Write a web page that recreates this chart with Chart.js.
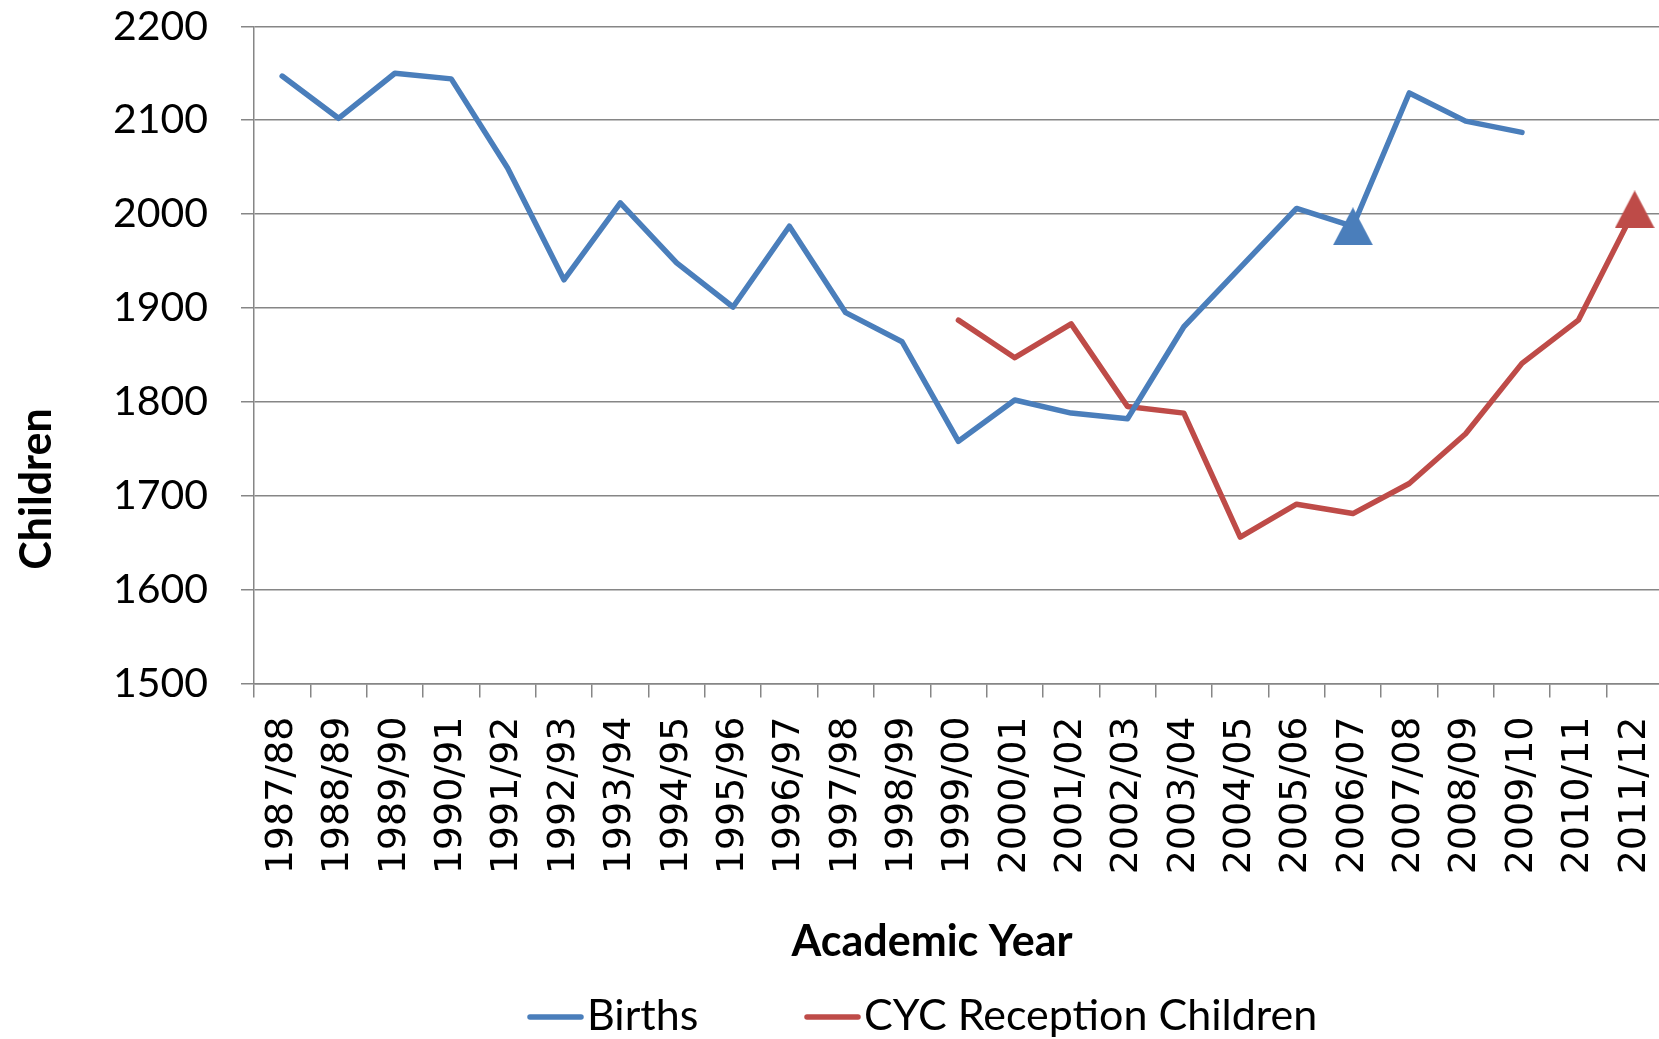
<!DOCTYPE html>
<html>
<head>
<meta charset="utf-8">
<script src="https://cdn.jsdelivr.net/npm/chart.js@4/dist/chart.umd.min.js"></script>
<style>
html,body{margin:0;padding:0;overflow:hidden;background:#fff}
#wrap{width:1700px;height:1039px}
</style>
</head>
<body>
<div id="wrap"><canvas id="c" width="1700" height="1039"></canvas></div>
<script>
// ---- data ----
const years = ['1987/88','1988/89','1989/90','1990/91','1991/92','1992/93','1993/94','1994/95','1995/96','1996/97','1997/98','1998/99','1999/00','2000/01','2001/02','2002/03','2003/04','2004/05','2005/06','2006/07','2007/08','2008/09','2009/10','2010/11','2011/12'];
const births = [2147,2102,2150,2144,2049,1930,2012,1948,1901,1987,1895,1864,1758,1802,1788,1782,1880,1943,2006,1987,2129,2099,2087,null,null];
const reception = [null,null,null,null,null,null,null,null,null,null,null,null,1887,1847,1883,1795,1788,1656,1691,1681,1713,1766,1841,1887,2005];
const birthsMarked = ['2006/07'];
const receptionMarked = ['2011/12'];
const seriesNames = ['Births','CYC Reception Children'];
const seriesColors = ['#4A7EBB','#BE4B48'];
const yMin = 1500, yMax = 2200, yStep = 100;
const xTitle = 'Academic Year';
const yTitle = 'Children';

// triangle marker images (Excel-style: centred on its bounding box)
function triangleImage(color) {
  const c = document.createElement('canvas');
  c.width = 40; c.height = 38;
  const g = c.getContext('2d');
  g.fillStyle = color;
  g.beginPath();
  g.moveTo(20, 0); g.lineTo(40, 38); g.lineTo(0, 38); g.closePath();
  g.fill();
  return c;
}
function markerRadii(marked) { return years.map(y => marked.includes(y) ? 20 : 0); }
function markerStyles(marked, img) { return years.map(y => marked.includes(y) ? img : 'circle'); }

// ---- custom text/legend drawing (Excel-like placement) ----
const excelTexts = {
  id: 'excelTexts',
  afterDraw(chart) {
    const ctx = chart.ctx;
    ctx.save();
    ctx.fillStyle = '#000';
    ctx.font = 'bold 43px Lato';
    ctx.textAlign = 'center';
    ctx.textBaseline = 'alphabetic';
    ctx.fillText(xTitle, 932, 956);
    ctx.save();
    ctx.translate(51, 489);
    ctx.rotate(-Math.PI / 2);
    ctx.fillText(yTitle, 0, 0);
    ctx.restore();
    // legend
    const starts = [528, 805];
    ctx.font = '43px Lato';
    ctx.textAlign = 'left';
    chart.data.datasets.forEach((ds, i) => {
      const x = starts[i];
      ctx.strokeStyle = ds.borderColor;
      ctx.lineWidth = 5.5;
      ctx.lineCap = 'round';
      ctx.beginPath();
      ctx.moveTo(x + 2, 1017);
      ctx.lineTo(x + 53, 1017);
      ctx.stroke();
      ctx.fillStyle = '#000';
      ctx.fillText(ds.label, x + 59, 1030);
    });
    ctx.restore();
  }
};

Chart.defaults.font.family = 'Lato';
Chart.defaults.color = '#000';

const blueTri = triangleImage(seriesColors[0]);
const redTri = triangleImage(seriesColors[1]);

new Chart(document.getElementById('c'), {
  type: 'line',
  data: {
    labels: years,
    datasets: [
      {
        label: seriesNames[0],
        data: births,
        borderColor: seriesColors[0],
        backgroundColor: seriesColors[0],
        borderWidth: 5.5,
        borderCapStyle: 'round',
        borderJoinStyle: 'round',
        tension: 0,
        pointStyle: markerStyles(birthsMarked, blueTri),
        pointRadius: markerRadii(birthsMarked),
        pointBorderWidth: 0,
        pointBackgroundColor: seriesColors[0]
      },
      {
        label: seriesNames[1],
        data: reception,
        borderColor: seriesColors[1],
        backgroundColor: seriesColors[1],
        borderWidth: 5.5,
        borderCapStyle: 'round',
        borderJoinStyle: 'round',
        tension: 0,
        pointStyle: markerStyles(receptionMarked, redTri),
        pointRadius: markerRadii(receptionMarked),
        pointBorderWidth: 0,
        pointBackgroundColor: seriesColors[1]
      }
    ]
  },
  options: {
    responsive: false,
    animation: false,
    events: [],
    layout: { padding: { top: 0, right: 36, bottom: 0, left: 0 } },
    plugins: {
      legend: { display: false },
      tooltip: { enabled: false },
      title: { display: false }
    },
    scales: {
      x: {
        type: 'category',
        offset: true,
        grid: {
          display: true,
          drawOnChartArea: false,
          drawTicks: true,
          tickLength: 14,
          color: '#868686',
          lineWidth: 1.5,
          offset: true
        },
        border: { display: true, color: '#868686', width: 1.5 },
        ticks: {
          autoSkip: false,
          minRotation: 90,
          maxRotation: 90,
          padding: 19,
          color: '#000',
          font: { family: 'DejaVu Sans', size: 38 }
        },
        afterFit(scale) { scale.height = 355.5; }
      },
      y: {
        min: yMin,
        max: yMax,
        grid: {
          color: '#868686',
          lineWidth: 1.5,
          tickLength: 13,
          drawTicks: true
        },
        border: { display: true, color: '#868686', width: 1.5 },
        ticks: {
          stepSize: yStep,
          padding: 33,
          color: '#000',
          font: { family: 'Lato', size: 41 },
          callback: (v) => String(v)
        },
        afterFit(scale) {
          scale.width = 254;
          scale.paddingTop = 26.3;
          scale.paddingBottom = 20;
        }
      }
    }
  },
  plugins: [excelTexts]
});
</script>
</body>
</html>
